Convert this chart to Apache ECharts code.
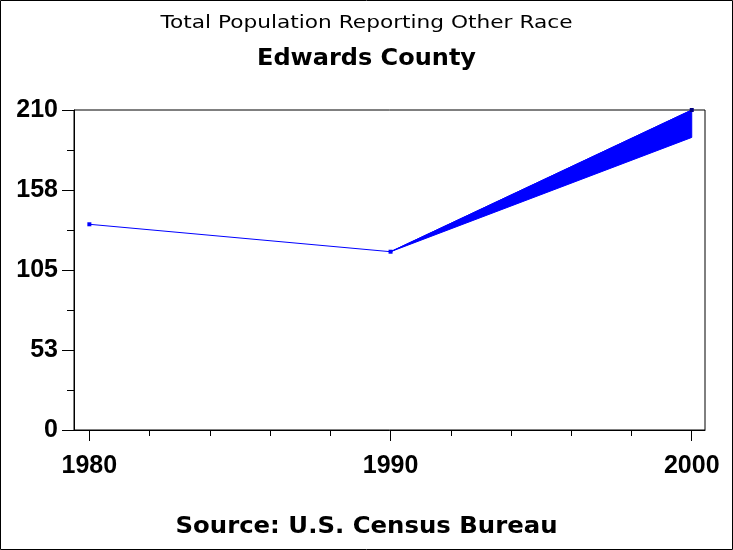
<!DOCTYPE html>
<html>
<head>
<meta charset="utf-8">
<script src="https://cdn.jsdelivr.net/npm/echarts@6/dist/echarts.min.js"></script>
<style>
html,body{margin:0;padding:0;background:#fff;}
#chart{width:733px;height:550px;}
</style>
</head>
<body>
<div id="chart"></div>
<script>
// Data
const years = [1980, 1990, 2000];
const population = [135, 117, 210];
const bandYears = [1990, 2000];
const bandUpper = [117, 210];
const bandLower = [117, 192];
const xMajorTicks = [1980, 1990, 2000];
const xMinorTicks = [1982, 1984, 1986, 1988, 1992, 1994, 1996, 1998];
const yTickLabels = ['0', '53', '105', '158', '210'];
const titleText = 'Total Population Reporting Other Race';
const subtitleText = 'Edwards County';
const footnoteText = 'Source: U.S. Census Bureau';

const labelFont = '"Liberation Sans", Arial, sans-serif';

// measure text to stretch the wide SAS-style titles horizontally
const mctx = document.createElement('canvas').getContext('2d');
function stretch(text, font, target) {
  mctx.font = font;
  return target / mctx.measureText(text).width;
}
function textItem(text, weight, size, family, cy, targetW) {
  const font = weight + ' ' + size + 'px ' + family;
  return {
    type: 'text', x: 366.5, y: cy, scaleX: stretch(text, font, targetW), scaleY: 1, silent: true,
    style: {text: text, font: font, fill: '#000', align: 'center', verticalAlign: 'middle',
      textAlign: 'center', textVerticalAlign: 'middle'}
  };
}

const chart = echarts.init(document.getElementById('chart'), null, {renderer: 'canvas'});
const xMin = 1979.49, xMax = 2000.44;
const navy = '#000080', blue = '#0000ff';

chart.setOption({
  backgroundColor: '#fff',
  animation: false,
  graphic: [
    {type: 'rect', shape: {x: 0.5, y: 0.5, width: 732, height: 549},
      style: {fill: 'none', stroke: '#000', lineWidth: 1}, silent: true},
    textItem(titleText, 'normal', 17.5, '"DejaVu Sans"', 23, 412),
    textItem(subtitleText, 'bold', 23, '"DejaVu Sans"', 59.5, 219),
    textItem(footnoteText, 'bold', 23, '"DejaVu Sans"', 527, 382)
  ],
  grid: {left: 74, right: 28, top: 110, bottom: 120, show: true, borderColor: '#000', borderWidth: 1, backgroundColor: 'transparent'},
  xAxis: [{
    type: 'value', min: xMin, max: xMax, position: 'bottom',
    axisLine: {show: true, lineStyle: {color: '#000', width: 1}},
    axisTick: {show: true, inside: false, length: 11, lineStyle: {color: '#000'}, customValues: xMajorTicks},
    axisLabel: {show: true, customValues: xMajorTicks, margin: 24, color: '#000',
      fontFamily: labelFont, fontSize: 25, fontWeight: 'bold', formatter: v => String(Math.round(v))},
    splitLine: {show: false}
  }, {
    type: 'value', min: xMin, max: xMax, position: 'bottom',
    axisLine: {show: false},
    axisTick: {show: true, inside: false, length: 6, lineStyle: {color: '#000'}, customValues: xMinorTicks},
    axisLabel: {show: false},
    splitLine: {show: false}
  }],
  yAxis: {
    type: 'value', min: 0, max: 210, interval: 52.5,
    axisLine: {show: true, lineStyle: {color: '#000', width: 1}},
    axisTick: {show: true, inside: false, length: 12, lineStyle: {color: '#000'}},
    minorTick: {show: true, splitNumber: 2, length: 7, lineStyle: {color: '#000'}},
    axisLabel: {margin: 16, color: '#000', fontFamily: labelFont, fontSize: 25, fontWeight: 'bold',
      formatter: (v, i) => yTickLabels[i]},
    splitLine: {show: false}
  },
  series: [
    {
      type: 'custom', xAxisIndex: 0, data: [0], silent: true, z: 2,
      renderItem: function (params, api) {
        const up = bandYears.map((yr, i) => api.coord([yr, bandUpper[i]]));
        const lo = bandYears.map((yr, i) => api.coord([yr, bandLower[i]])).reverse();
        return {type: 'polygon', shape: {points: up.concat(lo)}, style: {fill: blue, stroke: blue, lineWidth: 1}};
      }
    },
    {
      type: 'line', xAxisIndex: 0, z: 3,
      data: years.map((yr, i) => [yr, population[i]]),
      symbol: 'rect', symbolSize: 4, showSymbol: true,
      lineStyle: {color: blue, width: 1},
      itemStyle: {color: p => p.dataIndex === years.length - 1 ? navy : blue}
    }
  ]
});
</script>
</body>
</html>
